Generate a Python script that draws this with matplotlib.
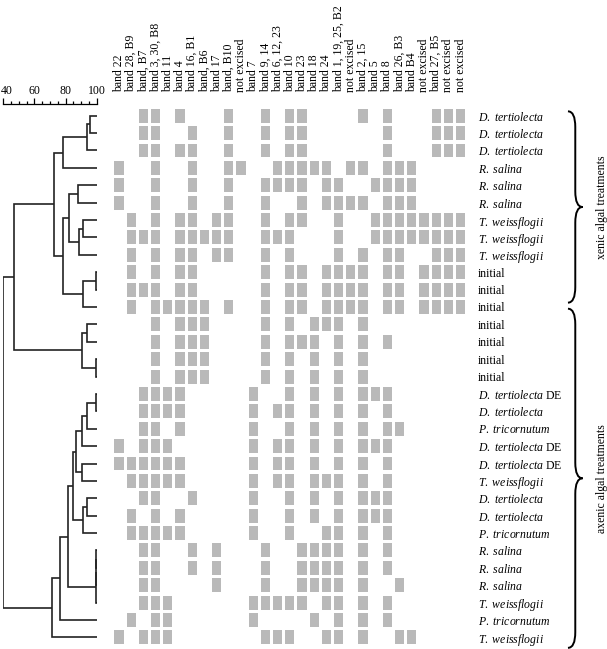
import matplotlib
matplotlib.use("Agg")
import matplotlib.pyplot as plt
import matplotlib.transforms as mtransforms
from matplotlib.path import Path
from matplotlib.patches import PathPatch
from matplotlib.ticker import MultipleLocator

plt.rcParams["font.family"] = "Liberation Serif"
plt.rcParams["mathtext.fontset"] = "custom"
plt.rcParams["mathtext.rm"] = "Liberation Serif"
plt.rcParams["mathtext.it"] = "Liberation Serif:italic"

# excised DGGE bands (columns)
bands = [
    "band 22", "band 28, B9", "band, B7", "band 3, 30, B8", "band 11", "band 4",
    "band 16, B1", "band, B6", "band 17", "band, B10", "not excised", "band 7",
    "band 9, 14", "band 6, 12, 23", "band 10", "band 23", "band 18", "band 24",
    "band 1, 19, 25, B2", "not excised", "band 2, 15", "band 5", "band 8",
    "band 26, B3", "band B4", "not excised", "band 27, B5", "not excised", "not excised",
]

# samples (rows, top to bottom)
samples = (["D. tertiolecta"] * 3 + ["R. salina"] * 3 + ["T. weissflogii"] * 3
           + ["initial"] * 7
           + ["D. tertiolecta DE", "D. tertiolecta", "P. tricornutum",
              "D. tertiolecta DE", "D. tertiolecta DE", "T. weissflogii",
              "D. tertiolecta", "D. tertiolecta", "P. tricornutum",
              "R. salina", "R. salina", "R. salina", "T. weissflogii",
              "P. tricornutum", "T. weissflogii"])

# band presence per sample (column indices)
presence = [
    [2, 3, 5, 9, 12, 14, 15, 20, 22, 26, 27, 28],
    [2, 3, 6, 9, 12, 14, 15, 22, 26, 27, 28],
    [2, 3, 5, 6, 9, 12, 14, 15, 22, 26, 27, 28],
    [0, 3, 6, 9, 10, 13, 14, 15, 16, 17, 19, 20, 22, 23, 24],
    [0, 3, 6, 9, 12, 13, 14, 15, 17, 18, 21, 22, 23, 24],
    [0, 3, 6, 9, 12, 15, 17, 18, 19, 20, 22, 23, 24],
    [1, 3, 5, 6, 8, 9, 12, 14, 15, 18, 21, 22, 23, 24, 25, 26, 27, 28],
    [1, 2, 3, 5, 6, 7, 8, 9, 12, 13, 14, 18, 21, 22, 23, 24, 25, 26, 27, 28],
    [1, 3, 5, 6, 8, 9, 12, 14, 18, 20, 22, 23, 26, 27, 28],
    [1, 3, 5, 6, 12, 14, 15, 17, 18, 19, 20, 22, 23, 25, 26, 27, 28],
    [1, 2, 3, 5, 6, 12, 14, 15, 17, 18, 19, 20, 22, 23, 25, 26, 27, 28],
    [1, 3, 4, 5, 6, 7, 9, 12, 14, 15, 17, 18, 19, 20, 22, 23, 25, 26, 27, 28],
    [3, 5, 6, 7, 12, 14, 16, 17, 18, 20],
    [3, 5, 6, 7, 12, 14, 15, 16, 18, 20, 22],
    [3, 5, 6, 7, 12, 14, 16, 18, 20],
    [3, 5, 6, 7, 12, 14, 16, 18, 20],
    [2, 3, 4, 5, 11, 14, 16, 18, 20, 21, 22],
    [2, 3, 4, 5, 11, 13, 14, 16, 18, 20, 22],
    [2, 3, 5, 11, 14, 16, 18, 20, 22, 23],
    [0, 2, 3, 4, 11, 13, 14, 16, 18, 20, 21, 22],
    [0, 1, 2, 3, 4, 5, 11, 13, 14, 16, 18, 20, 22],
    [1, 2, 3, 4, 5, 11, 13, 14, 16, 17, 18, 20, 22],
    [2, 3, 6, 11, 14, 16, 18, 20, 21, 22],
    [1, 3, 5, 11, 14, 16, 18, 20, 21, 22],
    [1, 2, 3, 4, 5, 11, 14, 17, 18, 20, 22],
    [2, 3, 6, 8, 12, 15, 16, 17, 18, 20, 22],
    [2, 3, 6, 8, 12, 15, 16, 17, 18, 20, 22],
    [2, 3, 8, 12, 15, 16, 17, 18, 20, 23],
    [2, 3, 4, 11, 12, 13, 14, 15, 17, 18, 20, 22],
    [1, 3, 4, 11, 16, 18, 20, 22],
    [0, 2, 3, 4, 12, 13, 14, 17, 18, 20, 23, 24],
]

# dendrogram merges: (node a, node b, similarity %); new nodes numbered from 31
merges = [
    (0, 1, 95.5), (31, 2, 93.5), (32, 3, 78.6),
    (4, 5, 88.2), (6, 7, 91.0), (35, 8, 88.9), (34, 36, 82.2),
    (9, 10, 99.5), (38, 11, 91.4), (37, 39, 78.6), (33, 40, 72.8),
    (12, 13, 94.0), (14, 15, 99.5), (42, 43, 90.4), (41, 44, 47.1),
    (16, 17, 99.5), (46, 18, 94.0), (47, 19, 90.4), (20, 21, 90.8),
    (48, 49, 86.4), (22, 23, 94.0), (51, 24, 91.0), (50, 52, 84.6),
    (25, 26, 99.8), (54, 27, 99.6), (55, 28, 99.3), (53, 56, 81.8),
    (57, 29, 76.5), (58, 30, 71.1), (45, 59, 40.0),
]

# treatment braces: (label, first row edge, last row edge)
groups = [("xenic algal treatments", -0.25, 10.75),
          ("axenic algal treatments", 11.1, 30.6)]

W, H = 607, 649
fig = plt.figure(figsize=(W / 100, H / 100), dpi=100)
n_rows, n_cols = len(samples), len(bands)

# matrix axes: column centres 119 + 12.2*i px, row centres 115.7 + 17.4*j px
ax = fig.add_axes([112.9 / W, 2.9 / H, 353.8 / W, 539.1 / H])
ax.set_xlim(-0.5, n_cols - 0.5)
ax.set_ylim(n_rows - 0.5, -0.5)
for r, cols in enumerate(presence):
    ax.bar(cols, 0.8, bottom=r - 0.4, width=0.74, color="#b9b9b9", linewidth=0)
for s in ax.spines.values():
    s.set_visible(False)
ax.xaxis.tick_top()
ax.set_xticks(range(n_cols))
ax.set_xticklabels(bands, rotation=90, fontsize=8.5)
ax.tick_params(axis="x", length=0, pad=10.5)


def fmt(name):
    if name == "initial":
        return name
    suffix = ""
    if name.endswith(" DE"):
        name, suffix = name[:-3], " DE"
    return r"$\mathit{" + name.replace(" ", r"\ ") + "}$" + suffix


ax.yaxis.tick_right()
ax.set_yticks(range(n_rows))
ax.set_yticklabels([fmt(s) for s in samples], fontsize=8.5)
ax.tick_params(axis="y", length=0, pad=8.1)

# braces to the right of the sample names
bx, hook, tip = 37.4, 0.6, 0.6
for label, y0, y1 in groups:
    ym = (y0 + y1) / 2
    r = 0.9
    verts = [(bx - hook, y0), (bx, y0), (bx, y0 + r),
             (bx, ym - r), (bx, ym), (bx + tip, ym),
             (bx, ym), (bx, ym + r),
             (bx, y1 - r), (bx, y1), (bx - hook, y1)]
    codes = [Path.MOVETO, Path.CURVE3, Path.CURVE3,
             Path.LINETO, Path.CURVE3, Path.CURVE3,
             Path.CURVE3, Path.CURVE3,
             Path.LINETO, Path.CURVE3, Path.CURVE3]
    ax.add_patch(PathPatch(Path(verts, codes), fill=False, lw=1.4,
                           edgecolor="black", clip_on=False))
    ax.text(39.6, ym, label, rotation=90, ha="center", va="center", fontsize=8.5)

# dendrogram
dax = fig.add_axes([3.3 / W, 2.9 / H, 93.4 / W, 539.1 / H])
dax.set_xlim(40, 100)
dax.set_ylim(n_rows - 0.5, -0.5)
pos = {i: (100.0, float(i)) for i in range(n_rows)}
for k, (a, b, sim) in enumerate(merges):
    (xa, ya), (xb, yb) = pos[a], pos[b]
    dax.plot([xa, sim, sim, xb], [ya, ya, yb, yb], color="#222222", lw=1.2,
             solid_capstyle="butt", solid_joinstyle="miter")
    pos[n_rows + k] = (sim, (ya + yb) / 2)
for side in ("left", "right", "bottom"):
    dax.spines[side].set_visible(False)
dax.spines["top"].set_position(("outward", 2))
dax.spines["top"].set_linewidth(0.9)
dax.set_yticks([])
dax.xaxis.tick_top()
dax.set_xticks([40, 60, 80, 100])
dax.xaxis.set_minor_locator(MultipleLocator(5))
dax.tick_params(axis="x", which="major", length=4, width=0.9, pad=1, labelsize=8.5)
dax.tick_params(axis="x", which="minor", length=2.2, width=0.9)
# keep the leftmost scale label inside the figure
first = dax.get_xticklabels()[0]
first.set_transform(first.get_transform()
                    + mtransforms.ScaledTranslation(3 / 100, 0, fig.dpi_scale_trans))

fig.savefig("out.png", dpi=100)
